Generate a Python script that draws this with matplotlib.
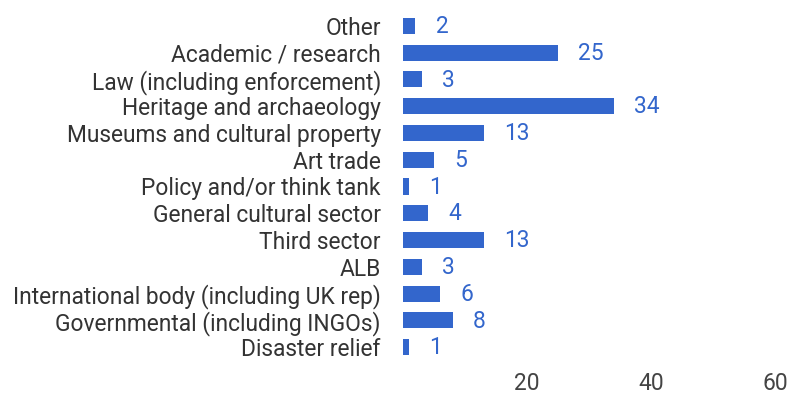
import matplotlib.pyplot as plt

categories = ["Other", "Academic / research", "Law (including enforcement)",
              "Heritage and archaeology", "Museums and cultural property",
              "Art trade", "Policy and/or think tank", "General cultural sector",
              "Third sector", "ALB", "International body (including UK rep)",
              "Governmental (including INGOs)", "Disaster relief"]
counts = [2, 25, 3, 34, 13, 5, 1, 4, 13, 3, 6, 8, 1]
xticks = [20, 40, 60]

plt.rcParams['font.family'] = ['Roboto', 'DejaVu Sans']

fig = plt.figure(figsize=(7.92, 3.95), dpi=100)
ax = fig.add_axes([403 / 792, 1 - 360.5 / 395, 372 / 792, 348 / 395])

ypos = list(range(len(categories)))
bars = ax.barh(ypos, counts, height=0.6, color="#3366cc")
ax.set_ylim(len(categories) - 0.5, -0.5)
ax.set_xlim(0, 60)

for y, v in zip(ypos, counts):
    ax.annotate(str(v), (v, y), xytext=(14.5, -0.5), textcoords="offset points",
                va="center", ha="left", color="#3366cc", fontsize=16.4)

ax.set_yticks(ypos)
ax.set_yticklabels(categories, fontsize=16.4, color="#333333")
ax.set_xticks(xticks)
ax.set_xticklabels([str(t) for t in xticks], fontsize=16.4, color="#444444")
ax.tick_params(axis="y", length=0, pad=16)
ax.tick_params(axis="x", length=0, pad=8)
for s in ax.spines.values():
    s.set_visible(False)

plt.savefig("out.png", dpi=100)
